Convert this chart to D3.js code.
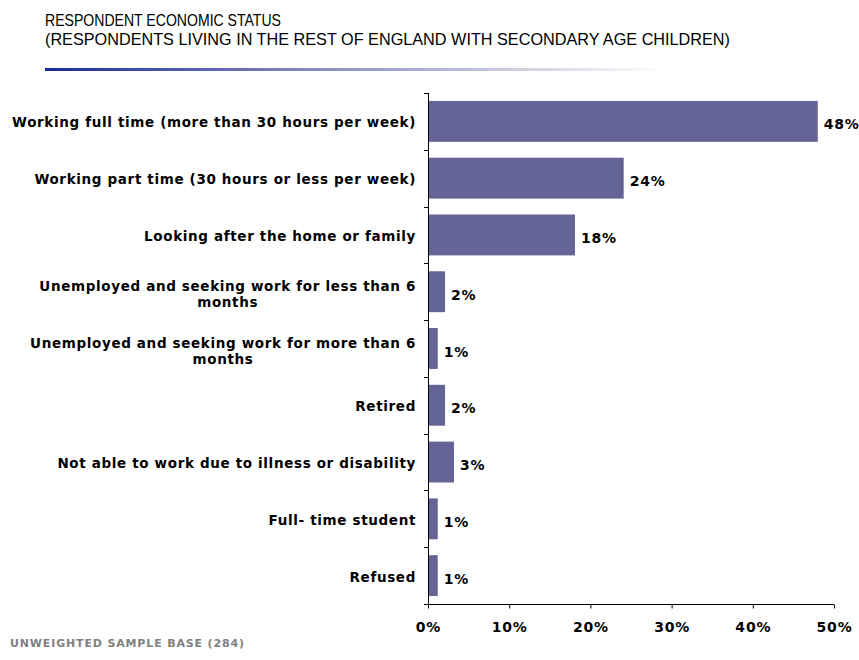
<!DOCTYPE html>
<meta charset="utf-8">
<style>
	body { margin: 0; background: #fff; }
	svg text { font-family: "DejaVu Sans", Verdana, sans-serif; }
	svg text.title { font-family: "Liberation Sans Narrow", "Liberation Sans", Arial, sans-serif; font-size: 17px; fill: #000; }
	.cat { font-size: 13.5px; font-weight: bold; fill: #000; letter-spacing: 0.65px; }
	.val { font-size: 14px; font-weight: bold; fill: #000; letter-spacing: 0.8px; }
	.tick text { font-size: 14px; font-weight: bold; fill: #000; letter-spacing: 0.8px; }
	.foot { font-size: 11px; font-weight: bold; fill: #808080; letter-spacing: 0.85px; }
</style>
<svg width="859" height="660"></svg>
<script src="https://d3js.org/d3.v7.min.js"></script>
<script>
	// data
	var categories = [
		"Working full time (more than 30 hours per week)",
		"Working part time (30 hours or less per week)",
		"Looking after the home or family",
		"Unemployed and seeking work for less than 6|months",
		"Unemployed and seeking work for more than 6|months",
		"Retired",
		"Not able to work due to illness or disability",
		"Full- time student",
		"Refused"
	];
	var values = [48, 24.1, 18.1, 2.1, 1.2, 2.1, 3.2, 1.2, 1.2];
	var xTicks = [0, 10, 20, 30, 40, 50];

	var svg = d3.select("svg");
	var pLeft = 428, pRight = 834, pTop = 93, pBottom = 604;

	// title
	svg.append("text").attr("class", "title").attr("x", 45).attr("y", 26)
		.attr("textLength", 236).attr("lengthAdjust", "spacingAndGlyphs").text("RESPONDENT ECONOMIC STATUS");
	svg.append("text").attr("class", "title").attr("x", 45).attr("y", 45)
		.attr("textLength", 685).attr("lengthAdjust", "spacingAndGlyphs").text("(RESPONDENTS LIVING IN THE REST OF ENGLAND WITH SECONDARY AGE CHILDREN)");

	var grad = svg.append("defs").append("linearGradient").attr("id", "rule");
	grad.append("stop").attr("offset", "0%").attr("stop-color", "#1a2a9a");
	grad.append("stop").attr("offset", "45%").attr("stop-color", "#8a8fbf");
	grad.append("stop").attr("offset", "100%").attr("stop-color", "#ffffff");
	svg.append("rect").attr("x", 45).attr("y", 68).attr("width", 620).attr("height", 3).attr("fill", "url(#rule)");

	// scales
	var x = d3.scaleLinear().domain([0, 50]).range([pLeft, pRight]);
	var y = d3.scaleBand().domain(d3.range(categories.length)).range([pTop, pBottom]).paddingInner(0.28).paddingOuter(0.14);
	var step = y.step();

	// bars
	svg.append("g").selectAll("rect")
		.data(values)
		.enter().append("rect")
			.attr("x", x(0))
			.attr("y", function(d, i) { return y(i); })
			.attr("width", function(d) { return x(d) - x(0); })
			.attr("height", y.bandwidth())
			.attr("fill", "#646496");

	// value labels
	svg.append("g").selectAll("text")
		.data(values)
		.enter().append("text")
			.attr("class", "val")
			.attr("x", function(d) { return x(d) + 6; })
			.attr("y", function(d, i) { return y(i) + y.bandwidth() / 2 + 8; })
			.text(function(d) { return Math.round(d) + "%"; });

	// category labels
	var cats = svg.append("g").selectAll("text")
		.data(categories)
		.enter().append("text")
			.attr("class", "cat");
	cats.each(function(d, i) {
		var t = d3.select(this), lines = d.split("|");
		var cy = y(i) + y.bandwidth() / 2;
		if (lines.length == 1) {
			t.attr("x", 416).attr("y", cy + 6).attr("text-anchor", "end").text(d);
		} else {
			var a = t.append("tspan").attr("x", 416).attr("y", cy - 1).attr("text-anchor", "end").text(lines[0]);
			var w = a.node().getComputedTextLength();
			t.append("tspan").attr("x", 416 - w / 2).attr("y", cy + 15).attr("text-anchor", "middle").text(lines[1]);
		}
	});

	// y axis line with boundary ticks
	var ya = svg.append("g").attr("stroke", "#000").attr("stroke-width", 1);
	ya.append("line").attr("x1", pLeft + 0.5).attr("x2", pLeft + 0.5).attr("y1", pTop).attr("y2", pBottom);
	ya.selectAll("line.b")
		.data(d3.range(categories.length + 1))
		.enter().append("line")
			.attr("class", "b")
			.attr("x1", pLeft - 4).attr("x2", pLeft)
			.attr("y1", function(i) { return Math.round(pTop + i * step) + 0.5; })
			.attr("y2", function(i) { return Math.round(pTop + i * step) + 0.5; });

	// x axis
	var xa = svg.append("g")
		.attr("transform", "translate(0," + (pBottom + 0.5) + ")")
		.call(d3.axisBottom(x).tickValues(xTicks).tickSize(4).tickFormat(function(d) { return d + "%"; }));
	xa.select(".domain").attr("d", "M" + (pLeft - 4) + ",0H" + pRight);
	xa.selectAll(".tick text")
		.attr("font-family", null).attr("font-size", null)
		.attr("y", 27).attr("dy", null);

	// footer
	svg.append("text").attr("class", "foot").attr("x", 10).attr("y", 647).text("UNWEIGHTED SAMPLE BASE (284)");
</script>
